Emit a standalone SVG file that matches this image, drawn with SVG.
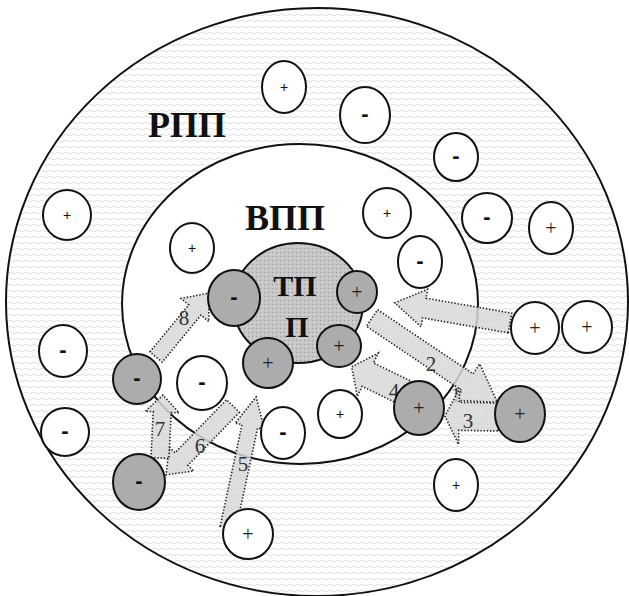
<svg xmlns="http://www.w3.org/2000/svg" width="629" height="596" viewBox="0 0 629 596">
  <defs>
    <!-- wavy hatching of the outer zone -->
    <pattern id="waves" width="8" height="6" patternUnits="userSpaceOnUse">
      <rect width="8" height="6" fill="#ffffff"/>
      <path d="M0 3 Q2 1.2 4 3 T8 3" fill="none" stroke="#cfcfcf" stroke-width="0.7"/>
    </pattern>
    <!-- stippled grey of the core -->
    <pattern id="stipple" width="4" height="4" patternUnits="userSpaceOnUse">
      <rect width="4" height="4" fill="#c6c6c6"/>
      <rect x="0" y="0" width="1" height="1" fill="#9a9a9a"/>
      <rect x="2" y="2" width="1" height="1" fill="#e2e2e2"/>
    </pattern>
    <pattern id="arrowfill" width="3" height="3" patternUnits="userSpaceOnUse">
      <rect width="3" height="3" fill="#dadada"/>
      <rect x="1" y="1" width="1" height="1" fill="#c6c6c6"/>
    </pattern>
    <style>
      .ring { stroke: #111; stroke-width: 2; }
      .ion { stroke: #111; stroke-width: 2; }
      .w { fill: #ffffff; }
      .g { fill: #acacac; }
      .arr { fill: url(#arrowfill); fill-opacity: 0.85; stroke: #222; stroke-width: 1.6; stroke-dasharray: 1.4 1.8; }
      .sign { font-family: "Liberation Sans", Arial, sans-serif; font-size: 14px; text-anchor: middle; fill: #111; }
      .big { font-family: "Liberation Serif", "Times New Roman", serif; font-size: 20px; text-anchor: middle; fill: #222; }
      .minus { font-family: "Liberation Sans", Arial, sans-serif; font-size: 22px; font-weight: bold; text-anchor: middle; fill: #111; }
      .zone { font-family: "Liberation Serif", "Times New Roman", serif; font-weight: bold; text-anchor: middle; fill: #111; }
      .num { font-family: "Liberation Serif", "Times New Roman", serif; font-size: 21px; text-anchor: middle; fill: #333; }
    </style>
  </defs>

  <!-- zones -->
  <g id="zone-rpp">
    <ellipse cx="317" cy="302" rx="311" ry="294" fill="url(#waves)" class="ring"/>
    <text class="zone" x="187" y="137" font-size="36">РПП</text>
  </g>
  <g id="zone-vpp">
    <ellipse cx="300" cy="304" rx="178" ry="160" fill="#ffffff" class="ring"/>
    <text class="zone" x="285" y="230" font-size="36">ВПП</text>
  </g>
  <g id="zone-tpp">
    <ellipse cx="298" cy="303" rx="65" ry="60" fill="url(#stipple)" class="ring"/>
    <text class="zone" x="295" y="296" font-size="30">ТП</text>
    <text class="zone" x="297" y="337" font-size="30">П</text>
  </g>

  <!-- transfer arrows -->
  <g id="connectors">
    <text class="num" x="456" y="402" font-size="16">1</text>
    <polygon class="arr" transform="translate(510,323) rotate(189.9)" points="0,-10 87,-10 87,-19 117,0 87,19 87,10 0,10"/>
    <polygon class="arr" transform="translate(372,318) rotate(33.9)" points="0,-10 115,-10 115,-22 151,0 115,22 115,10 0,10"/>
    <polygon class="arr" transform="translate(498,417) rotate(181)" points="0,-14 39,-14 39,-28 53,0 39,28 39,14 0,14"/>
    <polygon class="arr" transform="translate(420,400) rotate(205.9)" points="0,-13 58,-13 58,-24 76,0 58,24 58,13 0,13"/>
    <polygon class="arr" transform="translate(228,528) rotate(-77.9)" points="0,-8 104,-8 104,-15 134,0 104,15 104,8 0,8"/>
    <polygon class="arr" transform="translate(233,406) rotate(134.2)" points="0,-9 74,-9 74,-17 96,0 74,17 74,9 0,9"/>
    <polygon class="arr" transform="translate(160,458) rotate(-87.3)" points="0,-9 46,-9 46,-17 63,0 46,17 46,9 0,9"/>
    <polygon class="arr" transform="translate(156,357) rotate(-50.4)" points="0,-8 61,-8 61,-18 83,0 61,18 61,8 0,8"/>
    <text class="num" x="431" y="371">2</text>
    <text class="num" x="468" y="428">3</text>
    <text class="num" x="394" y="398">4</text>
    <text class="num" x="243" y="471">5</text>
    <text class="num" x="200" y="453">6</text>
    <text class="num" x="160" y="436">7</text>
    <text class="num" x="184" y="325">8</text>
  </g>

  <!-- ions of the outer zone -->
  <g id="ion-o1"><ellipse class="ion w" cx="284" cy="87" rx="22" ry="26"/><text class="sign" x="284" y="92">+</text></g>
  <g id="ion-o2"><ellipse class="ion w" cx="365" cy="115" rx="25" ry="28"/><text class="minus" x="365" y="121">-</text></g>
  <g id="ion-o3"><ellipse class="ion w" cx="456" cy="157" rx="22" ry="24"/><text class="minus" x="456" y="163">-</text></g>
  <g id="ion-o4"><ellipse class="ion w" cx="487" cy="218" rx="25" ry="25"/><text class="minus" x="487" y="224">-</text></g>
  <g id="ion-o5"><ellipse class="ion w" cx="551" cy="228" rx="22" ry="26"/><text class="big" x="551" y="235">+</text></g>
  <g id="ion-o6"><ellipse class="ion w" cx="535" cy="328" rx="24" ry="26"/><text class="big" x="535" y="335">+</text></g>
  <g id="ion-o7"><ellipse class="ion w" cx="587" cy="327" rx="25" ry="26"/><text class="big" x="587" y="334">+</text></g>
  <g id="ion-o8"><ellipse class="ion w" cx="67" cy="215" rx="24" ry="25"/><text class="sign" x="67" y="220">+</text></g>
  <g id="ion-o9"><ellipse class="ion w" cx="63" cy="351" rx="24" ry="26"/><text class="minus" x="63" y="357">-</text></g>
  <g id="ion-o10"><ellipse class="ion w" cx="65" cy="432" rx="24" ry="24"/><text class="minus" x="65" y="438">-</text></g>
  <g id="ion-o11"><ellipse class="ion w" cx="456" cy="485" rx="22" ry="26"/><text class="sign" x="456" y="490">+</text></g>
  <g id="ion-o12"><ellipse class="ion w" cx="248" cy="534" rx="25" ry="25"/><text class="big" x="248" y="541">+</text></g>

  <!-- ions of the inner zone -->
  <g id="ion-i1"><ellipse class="ion w" cx="192" cy="248" rx="22" ry="25"/><text class="sign" x="192" y="253">+</text></g>
  <g id="ion-i2"><ellipse class="ion w" cx="387" cy="213" rx="24" ry="25"/><text class="sign" x="387" y="218">+</text></g>
  <g id="ion-i3"><ellipse class="ion w" cx="420" cy="262" rx="22" ry="26"/><text class="minus" x="420" y="268">-</text></g>
  <g id="ion-i4"><ellipse class="ion w" cx="202" cy="383" rx="25" ry="27"/><text class="minus" x="202" y="389">-</text></g>
  <g id="ion-i5"><ellipse class="ion w" cx="283" cy="433" rx="22" ry="26"/><text class="minus" x="283" y="439">-</text></g>
  <g id="ion-i6"><ellipse class="ion w" cx="340" cy="414" rx="22" ry="24"/><text class="sign" x="340" y="419">+</text></g>

  <!-- grey ions taking part in the transfer -->
  <g id="ion-g1"><ellipse class="ion g" cx="234" cy="298" rx="26" ry="28"/><text class="minus" x="234" y="304">-</text></g>
  <g id="ion-g2"><ellipse class="ion g" cx="357" cy="292" rx="20" ry="21"/><text class="big" x="357" y="299">+</text></g>
  <g id="ion-g3"><ellipse class="ion g" cx="268" cy="363" rx="25" ry="25"/><text class="big" x="268" y="370">+</text></g>
  <g id="ion-g4"><ellipse class="ion g" cx="339" cy="346" rx="22" ry="21"/><text class="big" x="339" y="353">+</text></g>
  <g id="ion-g5"><ellipse class="ion g" cx="137" cy="379" rx="24" ry="25"/><text class="minus" x="137" y="385">-</text></g>
  <g id="ion-g6"><ellipse class="ion g" cx="139" cy="482" rx="26" ry="28"/><text class="minus" x="139" y="488">-</text></g>
  <g id="ion-g7"><ellipse class="ion g" cx="419" cy="408" rx="25" ry="27"/><text class="big" x="419" y="415">+</text></g>
  <g id="ion-g8"><ellipse class="ion g" cx="520" cy="414" rx="25" ry="28"/><text class="big" x="520" y="421">+</text></g>
</svg>
